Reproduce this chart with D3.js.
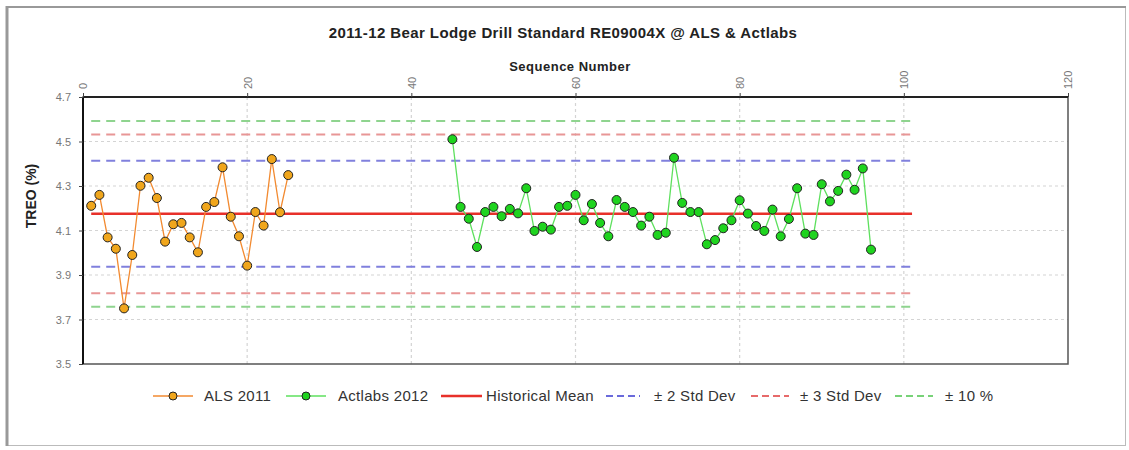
<!DOCTYPE html>
<html>
<head>
<meta charset="utf-8">
<script src="https://cdn.jsdelivr.net/npm/d3@7"></script>
<style>
  body { margin: 0; background: #fff; }
  svg { display: block; font-family: "Liberation Sans", Arial, sans-serif; }
</style>
</head>
<body>
<svg width="1129" height="450"></svg>
<script>
// ALS 2011 runs over sequence 1..25, Actlabs 2012 over 45..96
var alsSeq = d3.range(1, 26);
var alsVals = [4.211, 4.260, 4.069, 4.018, 3.750, 3.990, 4.301, 4.337, 4.246, 4.050,
               4.128, 4.134, 4.069, 4.002, 4.206, 4.228, 4.384, 4.162, 4.074, 3.942,
               4.183, 4.122, 4.421, 4.182, 4.349];

var actSeq = d3.range(45, 97);
var actVals = [4.510, 4.206, 4.153, 4.026, 4.183, 4.206, 4.164, 4.197, 4.177, 4.290,
               4.098, 4.117, 4.104, 4.206, 4.211, 4.260, 4.146, 4.219, 4.134, 4.074,
               4.237, 4.206, 4.183, 4.122, 4.162, 4.080, 4.090, 4.427, 4.224, 4.183,
               4.183, 4.038, 4.057, 4.110, 4.146, 4.236, 4.176, 4.120, 4.098, 4.194,
               4.074, 4.152, 4.290, 4.086, 4.080, 4.308, 4.231, 4.278, 4.351, 4.283,
               4.379, 4.014];

var histMean = 4.175;
var stdDev = 0.119;
var limitSpan = [1, 101];

var xTicks = [0, 20, 40, 60, 80, 100, 120];
var yTicks = [3.5, 3.7, 3.9, 4.1, 4.3, 4.5, 4.7];

var svg = d3.select("svg");

// outer frame
svg.append("rect").attr("x", 6.5).attr("y", 6.5).attr("width", 1119).attr("height", 439)
   .attr("fill", "#fff").attr("stroke", "#bbb").attr("stroke-width", 1);
svg.append("line").attr("x1", 7).attr("x2", 7).attr("y1", 6).attr("y2", 446)
   .attr("stroke", "#999").attr("stroke-width", 3);
svg.append("line").attr("x1", 6).attr("x2", 1126).attr("y1", 7).attr("y2", 7)
   .attr("stroke", "#999").attr("stroke-width", 2);

var pL = 83, pR = 1068, pT = 97, pB = 364;

var x = d3.scaleLinear().domain([0, 120]).range([pL, pR]);
var y = d3.scaleLinear().domain([3.5, 4.7]).range([pB, pT]);

// grid
var g = svg.append("g");
g.selectAll(".vg").data(xTicks.slice(1, -1)).enter().append("line")
  .attr("x1", d => x(d)).attr("x2", d => x(d)).attr("y1", pT).attr("y2", pB)
  .attr("stroke", "#d4d4d4").attr("stroke-width", 1.2).attr("stroke-dasharray", "3,3");
g.selectAll(".hg").data(yTicks.slice(1, -1)).enter().append("line")
  .attr("x1", pL).attr("x2", pR).attr("y1", d => y(d)).attr("y2", d => y(d))
  .attr("stroke", "#d4d4d4").attr("stroke-width", 1.2).attr("stroke-dasharray", "3,3");

// control limits
var limits = [
  { v: histMean + 0.1 * histMean, c: "#8fd48f" },
  { v: histMean - 0.1 * histMean, c: "#8fd48f" },
  { v: histMean + 3 * stdDev, c: "#e89696" },
  { v: histMean - 3 * stdDev, c: "#e89696" },
  { v: histMean + 2 * stdDev, c: "#8080dd" },
  { v: histMean - 2 * stdDev, c: "#8080dd" }
];
g.selectAll(".lim").data(limits).enter().append("line")
  .attr("x1", x(limitSpan[0])).attr("x2", x(limitSpan[1]))
  .attr("y1", d => y(d.v)).attr("y2", d => y(d.v))
  .attr("stroke", d => d.c).attr("stroke-width", 2).attr("stroke-dasharray", "9,6");

g.append("line")
  .attr("x1", x(limitSpan[0])).attr("x2", x(limitSpan[1]))
  .attr("y1", y(histMean)).attr("y2", y(histMean))
  .attr("stroke", "#e8302a").attr("stroke-width", 2.5);

// frame of plot area
svg.append("rect").attr("x", pL).attr("y", pT).attr("width", pR - pL).attr("height", pB - pT)
   .attr("fill", "none").attr("stroke", "#555").attr("stroke-width", 1.5);
svg.append("line").attr("x1", pL).attr("x2", pL).attr("y1", pT).attr("y2", pB)
   .attr("stroke", "#111").attr("stroke-width", 2);
svg.append("line").attr("x1", pL).attr("x2", pR).attr("y1", pT).attr("y2", pT)
   .attr("stroke", "#222").attr("stroke-width", 2);

// axes
var xAxis = svg.append("g").attr("transform", "translate(0," + pT + ")")
  .call(d3.axisTop(x).tickValues(xTicks).tickSize(4).tickFormat(d3.format("d")));
xAxis.select(".domain").remove();
xAxis.selectAll("text").attr("transform", "rotate(-90)").attr("text-anchor", "start")
  .attr("x", 8).attr("y", 0).attr("dy", "0.35em")
  .attr("fill", "#777").attr("font-size", 11);
xAxis.selectAll("line").attr("stroke", "#444");

var yAxis = svg.append("g").attr("transform", "translate(" + pL + ",0)")
  .call(d3.axisLeft(y).tickValues(yTicks).tickSize(4).tickFormat(d3.format(".1f")));
yAxis.select(".domain").remove();
yAxis.selectAll("text").attr("fill", "#777").attr("font-size", 11).attr("x", -12);
yAxis.selectAll("line").attr("stroke", "#444");

// series
var line = d3.line().x(d => x(d[0])).y(d => y(d[1]));
var als = d3.zip(alsSeq, alsVals);
var act = d3.zip(actSeq, actVals);

svg.append("path").datum(als).attr("d", line).attr("fill", "none")
  .attr("stroke", "#f28a30").attr("stroke-width", 1.3);
svg.append("path").datum(act).attr("d", line).attr("fill", "none")
  .attr("stroke", "#5ee05e").attr("stroke-width", 1.3);

svg.selectAll(".alsPt").data(als).enter().append("circle")
  .attr("cx", d => x(d[0])).attr("cy", d => y(d[1])).attr("r", 4.5)
  .attr("fill", "#f0a61c").attr("stroke", "#222").attr("stroke-width", 1);
svg.selectAll(".actPt").data(act).enter().append("circle")
  .attr("cx", d => x(d[0])).attr("cy", d => y(d[1])).attr("r", 4.5)
  .attr("fill", "#1fd41f").attr("stroke", "#222").attr("stroke-width", 1);

// titles
svg.append("text").attr("x", 563).attr("y", 38).attr("text-anchor", "middle")
  .attr("font-size", 15).attr("letter-spacing", 0.4).attr("font-weight", "bold").attr("fill", "#222")
  .text("2011-12 Bear Lodge Drill Standard RE09004X @ ALS & Actlabs");
svg.append("text").attr("x", 570).attr("y", 71).attr("text-anchor", "middle")
  .attr("font-size", 13).attr("letter-spacing", 0.5).attr("font-weight", "bold").attr("fill", "#222")
  .text("Sequence Number");
svg.append("text").attr("transform", "translate(36,196) rotate(-90)").attr("text-anchor", "middle")
  .attr("font-size", 14).attr("font-weight", "bold").attr("fill", "#222")
  .text("TREO (%)");

// legend
var legend = [
  { name: "ALS 2011", x: 153, w: 40, tx: 204, c: "#f28a30", sw: 1.3, dash: null, pt: "#f0a61c" },
  { name: "Actlabs 2012", x: 286, w: 40, tx: 338, c: "#5ee05e", sw: 1.3, dash: null, pt: "#1fd41f" },
  { name: "Historical Mean", x: 441, w: 41, tx: 486, c: "#e8302a", sw: 2.5, dash: null, pt: null },
  { name: "± 2 Std Dev", x: 606, w: 34, tx: 654, c: "#3a3ad0", sw: 1.5, dash: "7,4", pt: null },
  { name: "± 3 Std Dev", x: 751, w: 38, tx: 800, c: "#e03a3a", sw: 1.5, dash: "7,4", pt: null },
  { name: "± 10 %", x: 895, w: 38, tx: 945, c: "#4cc44c", sw: 1.5, dash: "7,4", pt: null }
];
var ly = 396;
var li = svg.selectAll(".leg").data(legend).enter().append("g");
li.append("line").attr("x1", d => d.x).attr("x2", d => d.x + d.w).attr("y1", ly).attr("y2", ly)
  .attr("stroke", d => d.c).attr("stroke-width", d => d.sw).attr("stroke-dasharray", d => d.dash);
li.filter(d => d.pt).append("circle").attr("cx", d => d.x + d.w / 2).attr("cy", ly).attr("r", 4)
  .attr("fill", d => d.pt).attr("stroke", "#222").attr("stroke-width", 1);
li.append("text").attr("x", d => d.tx).attr("y", ly).attr("dy", "0.35em")
  .attr("font-size", 15).attr("letter-spacing", 0.3).attr("fill", "#333").text(d => d.name);
</script>
</body>
</html>
